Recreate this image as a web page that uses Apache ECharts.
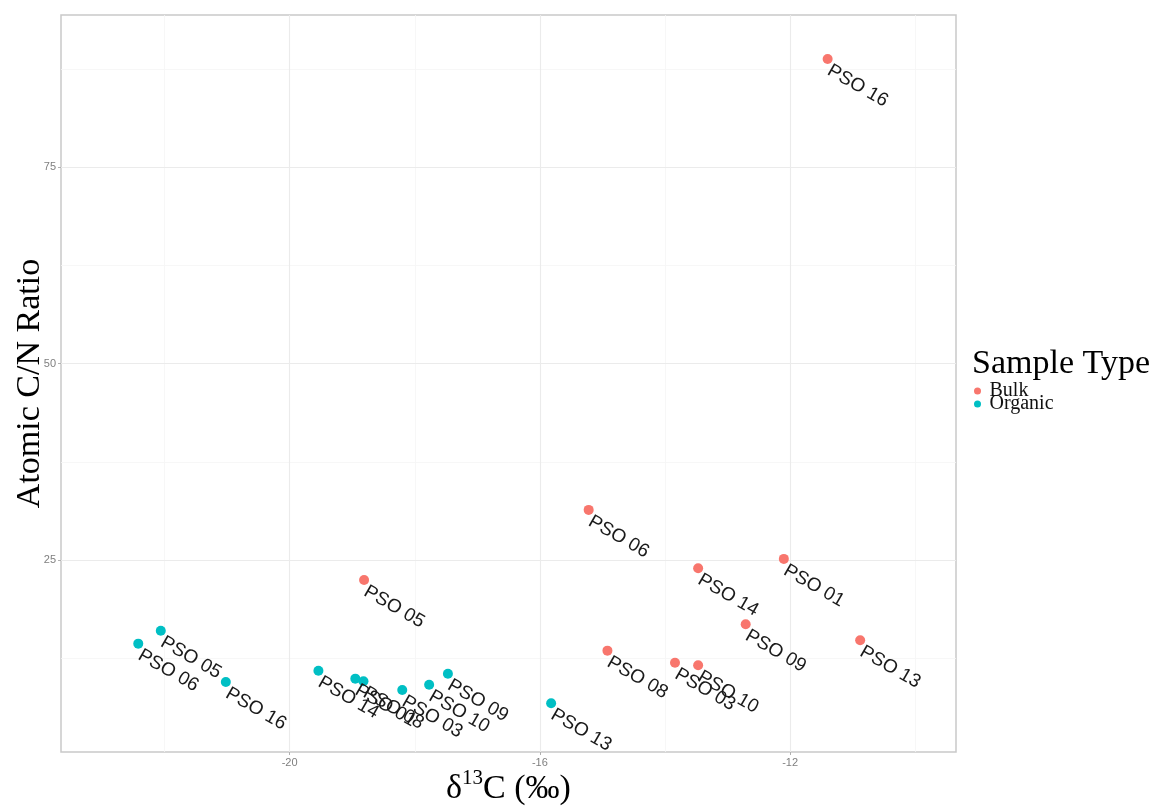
<!DOCTYPE html>
<html><head><meta charset="utf-8">
<script src="https://cdn.jsdelivr.net/npm/echarts@6/dist/echarts.min.js"></script>
<style>html,body{margin:0;padding:0;background:#fff}#c{width:1155px;height:806px}</style>
</head><body><div id="c"></div>
<script>
const bulkNames = ['PSO 01','PSO 03','PSO 05','PSO 06','PSO 08','PSO 09','PSO 10','PSO 13','PSO 14','PSO 16'];
const bulkD13C = [-12.10,-13.84,-18.81,-15.22,-14.92,-12.71,-13.47,-10.88,-13.47,-11.40];
const bulkCN = [25.17,11.97,22.49,31.40,13.50,16.86,11.64,14.82,23.98,88.74];
const organicNames = ['PSO 01','PSO 03','PSO 05','PSO 06','PSO 08','PSO 09','PSO 10','PSO 13','PSO 14','PSO 16'];
const organicD13C = [-18.95,-18.20,-22.06,-22.42,-18.82,-17.47,-17.77,-15.82,-19.54,-21.02];
const organicCN = [9.94,8.50,16.04,14.39,9.61,10.57,9.17,6.81,10.95,9.52];
const xTicks = [-20,-16,-12];
const yTicks = [25,50,75];
const xMinor = [-22,-18,-14,-10];
const yMinor = [12.5,37.5,62.5,87.5];
const seriesNames = ['Bulk','Organic'];
const colors = ['#F8766D','#00BFC4'];

const chart = echarts.init(document.getElementById('c'), null, {renderer:'canvas'});

function mk(names, xs, ys){ return xs.map((x,i)=>({value:[x, ys[i]], name:names[i]})); }

const majorStyle = {color:'#ebebeb', width:1.1, type:'solid'};
const minorStyle = {color:'#f5f5f5', width:0.8, type:'solid'};
const gridLines = [].concat(
  xMinor.map(v=>({xAxis:v, lineStyle:minorStyle})),
  yMinor.map(v=>({yAxis:v, lineStyle:minorStyle})),
  xTicks.map(v=>({xAxis:v, lineStyle:majorStyle})),
  yTicks.map(v=>({yAxis:v, lineStyle:majorStyle}))
);

const labelCfg = {
  show:true, formatter:'{b}', position:[11,7], rotate:-30,
  align:'left', verticalAlign:'top',
  fontFamily:'Liberation Sans', fontSize:19, color:'#1a1a1a'
};

const option = {
  animation:false,
  backgroundColor:'#ffffff',
  grid:{left:61, top:15, width:895, height:737, show:true, borderColor:'#c9c9c9', borderWidth:1.5,
    backgroundColor:'#fff', containLabel:false, outerBoundsMode:'none'},
  xAxis:{
    type:'value', min:-23.655, max:-9.348,
    splitLine:{show:false}, axisLine:{show:false},
    axisTick:{show:true, customValues:xTicks, length:3, lineStyle:{color:'#b0b0b0'}},
    axisLabel:{customValues:xTicks, color:'#7f7f7f', fontSize:11, fontFamily:'Liberation Sans', margin:5,
      formatter:v=>String(v)},
    name:'{n|δ}{s|13}{n|C (‰)}', nameLocation:'middle', nameGap:16, nameMoveOverlap:false,
    nameTextStyle:{rich:{
      n:{fontFamily:'Liberation Serif', fontSize:34, color:'#000', lineHeight:38, verticalAlign:'bottom'},
      s:{fontFamily:'Liberation Serif', fontSize:21, color:'#000', lineHeight:38, verticalAlign:'top'}
    }}
  },
  yAxis:{
    type:'value', min:0.61, max:94.34,
    splitLine:{show:false}, axisLine:{show:false},
    axisTick:{show:true, customValues:yTicks, length:3, lineStyle:{color:'#b0b0b0'}},
    axisLabel:{customValues:yTicks, color:'#7f7f7f', fontSize:11, fontFamily:'Liberation Sans', margin:5,
      formatter:v=>String(v)},
    name:'Atomic C/N Ratio', nameLocation:'middle', nameGap:14, nameMoveOverlap:false,
    nameTextStyle:{fontFamily:'Liberation Serif', fontSize:34, color:'#000'}
  },
  legend:{
    data:seriesNames, orient:'vertical', left:974, top:381, padding:0,
    itemWidth:14, itemHeight:7, itemGap:-7, icon:'circle',
    textStyle:{fontFamily:'Liberation Serif', fontSize:20, color:'#111', lineHeight:13, padding:[0,0,0,0]}
  },
  graphic:[{
    type:'text', left:972, top:347,
    style:{text:'Sample Type', font:'34px "Liberation Serif"', fill:'#000'}
  }],
  series:[
    {
      name:seriesNames[0], type:'scatter', symbolSize:10, z:3,
      itemStyle:{color:colors[0], opacity:1},
      data:mk(bulkNames, bulkD13C, bulkCN),
      label:labelCfg,
      markLine:{silent:true, symbol:'none', z:1, label:{show:false}, animation:false, data:gridLines}
    },
    {
      name:seriesNames[1], type:'scatter', symbolSize:10, z:3,
      itemStyle:{color:colors[1], opacity:1},
      data:mk(organicNames, organicD13C, organicCN),
      label:labelCfg
    }
  ]
};
chart.setOption(option);
</script></body></html>
